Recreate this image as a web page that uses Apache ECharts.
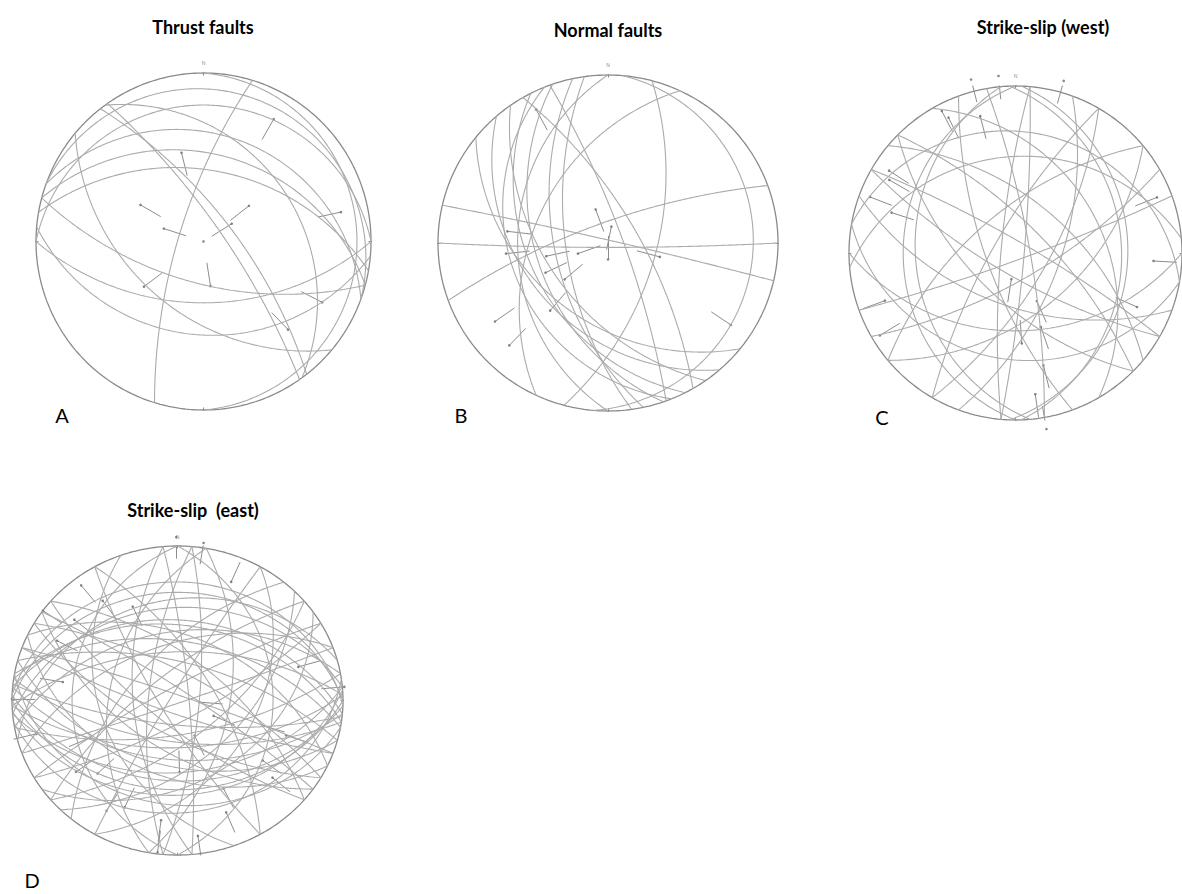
<!DOCTYPE html>
<html>
<head>
<meta charset="utf-8">
<script src="https://cdn.jsdelivr.net/npm/echarts@6/dist/echarts.min.js"></script>
<style>
  html, body { margin: 0; padding: 0; background: #ffffff; }
  #chart { width: 1182px; height: 894px; }
</style>
</head>
<body>
<div id="chart"></div>
<script>
// Fault planes as [dip direction, dip] (degrees); slip lineations as [trend, plunge, sense]
// sense 1: the arrow tail points toward the net centre, -1: the tail points outward.

const panelTitles = ['Thrust faults', 'Normal faults', 'Strike-slip (west)', 'Strike-slip  (east)'];
const panelLetters = ['A', 'B', 'C', 'D'];

const thrustPlanes = [
  [287, 73], [55, 77], [52, 70], [220, 44], [54, 31], [90, 5], [20, 6],
  [195, 62], [180, 50], [185, 32], [0, 12], [20, 25], [15, 35], [10, 44]
];
const thrustSlip = [
  [30, 10, 1], [346, 33, 1], [300, 43, 1], [288, 62, 1], [52, 52, 1], [58, 67.5, 1],
  [0, 90, 1], [171, 60, 1], [78, 10, 1], [233, 42, 1], [117, 13, 1], [136, 18, 1]
];

const normalPlanes = [
  [13, 88], [180, 87], [340, 76], [295, 43], [105, 58], [95, 9], [219, 41],
  [258, 55], [243, 40], [251, 44], [229, 37], [270, 34], [70, 80], [60, 70],
  [235, 50], [262, 62], [248, 30]
];
const normalSlip = [
  [332, 6, 1], [340, 66, 1], [11.5, 78.6, 1], [180, 78.8, 1], [276.7, 28.4, 1],
  [264, 27.8, 1], [257.8, 49.2, 1], [250.4, 68.7, 1], [105.2, 54.9, 1], [244.3, 45.6, 1],
  [229.7, 53, 1], [220.2, 34.4, 1], [234.9, 11.8, 1], [223.6, 9.8, 1], [124, 7.8, 1]
];

const westPlanes = [
  [160, 85], [150, 72], [88, 25], [92, 22], [270, 22], [265, 28], [250, 70],
  [80, 80], [95, 84], [275, 80], [110, 60], [300, 75], [120, 68], [45, 70],
  [40, 55], [225, 60], [210, 75], [355, 30], [10, 18], [180, 40], [190, 25],
  [200, 55], [30, 82], [320, 62], [140, 50], [60, 35]
];
const westSlip = [
  [354.5, -3.6, 1], [345.6, -4, 1], [345.5, 9.5, 1], [15.7, -3.9, 1], [332.5, 2.4, 1],
  [333.6, 5.7, 1], [303, 5.7, 1], [300, 7.6, 1], [291, 3.8, 1], [288, 13.9, 1],
  [68.6, 5.2, 1], [93.3, 10.6, -1], [113.9, 12.8, 1], [250, 10.3, -1], [238.8, 2.8, 1],
  [156, 55, -1], [176, 33, 1], [161, 39.8, -1], [166, 20.5, -1], [172, 9, -1],
  [170, -3.9, 1], [189, 72, -1]
];

const eastPlanes = [
  [0, 20], [355, 28], [5, 35], [350, 42], [10, 48], [2, 15], [358, 55], [15, 62], [345, 24], [8, 38],
  [180, 30], [175, 40], [185, 48], [178, 56], [190, 22], [170, 65], [182, 35], [186, 72], [172, 18],
  [195, 44], [188, 60], [176, 27],
  [30, 70], [40, 60], [210, 65], [220, 72], [35, 82], [215, 55], [25, 45], [205, 38],
  [140, 62], [150, 75], [320, 70], [310, 58], [135, 48], [330, 80], [145, 35], [300, 85],
  [95, 75], [275, 70], [85, 82], [265, 60], [100, 55], [280, 45], [90, 30], [270, 25],
  [60, 65], [240, 78], [120, 40], [340, 50], [160, 88], [20, 86], [200, 80], [250, 40]
];
const eastSlip = [
  [359.6, -3.2, 1], [8.8, -1.8, 1], [22.9, 10.4, -1], [336, 22.7, 1], [325, 13.5, 1],
  [322, 3.2, 1], [310, 11.7, 1], [305.6, 0, 1], [298, 11, 1], [279.8, 19.8, -1],
  [270.6, 0, 1], [255.8, 7.2, -1], [245.5, 29.7, -1], [233, 15, 1], [225.6, 21.9, 1],
  [94.7, 74.8, -1], [178.5, 40.2, 1], [155.6, 62, -1], [107.5, 33.4, -1], [109, 20.5, -1],
  [73.4, 15.4, -1], [85, -0.7, 1], [127, 24.4, -1], [131, 15.5, -1], [154, 25.4, -1],
  [157.9, 14, -1], [172, 7, -1], [187.3, 14, -1], [187, 0.6, 1], [211, 10.4, 1],
  [204.8, 15.4, 1], [114.5, 63, -1]
];

const panels = [
  { planes: thrustPlanes, slip: thrustSlip },
  { planes: normalPlanes, slip: normalSlip },
  { planes: westPlanes, slip: westSlip },
  { planes: eastPlanes, slip: eastSlip }
];

// --- lower-hemisphere stereographic projection -------------------------------
const RAD = Math.PI / 180;
function project(v) {            // v = [north, east, down], unit length
  const k = 1 / (1 + v[2]);
  return [v[1] * k, v[0] * k];   // [x east, y north]
}
function lineVector(trend, plunge) {
  const t = trend * RAD, p = plunge * RAD;
  return [Math.cos(p) * Math.cos(t), Math.cos(p) * Math.sin(t), Math.sin(p)];
}
function greatCircle(dipDir, dip) {
  const s = (dipDir - 90) * RAD, d = dipDir * RAD, p = dip * RAD;
  const S = [Math.cos(s), Math.sin(s), 0];
  const Dv = [Math.cos(p) * Math.cos(d), Math.cos(p) * Math.sin(d), Math.sin(p)];
  const pts = [];
  for (let a = 0; a <= 180; a += 1) {
    const c = Math.cos(a * RAD), n = Math.sin(a * RAD);
    pts.push(project([c * S[0] + n * Dv[0], c * S[1] + n * Dv[1], c * S[2] + n * Dv[2]]));
  }
  return pts;
}
function primitive() {
  const pts = [];
  for (let a = 0; a <= 360; a += 1) pts.push(project(lineVector(a, 0)));
  return pts;
}

// --- layout -------------------------------------------------------------------
const grids = [
  { left: 36, top: 73, width: 335, height: 337 },
  { left: 438, top: 75, width: 340, height: 336 },
  { left: 849, top: 86, width: 333, height: 334 },
  { left: 12, top: 546, width: 331, height: 309 }
];
const titlePos = [[203, 27], [608, 30], [1043, 27], [193, 510]];
const letterPos = [[62, 415], [461, 415], [882, 417], [32, 880]];

const ARC = '#ababab', RIM = '#8a8a8a', ARROW = '#8c8c8c';
const ARROW_LEN = 0.14;

const series = [];
panels.forEach((panel, i) => {
  const axes = { xAxisIndex: i, yAxisIndex: i };
  series.push(Object.assign({
    type: 'line', data: primitive(), symbol: 'none', clip: false, silent: true,
    lineStyle: { color: RIM, width: 1.3 }
  }, axes));
  panel.planes.forEach(pl => {
    series.push(Object.assign({
      type: 'line', data: greatCircle(pl[0], pl[1]), symbol: 'none', clip: false, silent: true,
      lineStyle: { color: ARC, width: 1.1 }
    }, axes));
  });
  // cardinal ticks on the primitive
  const ticks = [0, 90, 180, 270].map(t => {
    const a = project(lineVector(t, 0));
    return { coords: [[a[0] * 0.985, a[1] * 0.985], [a[0] * 1.015, a[1] * 1.015]] };
  });
  const segs = [], dots = [];
  panel.slip.forEach(sl => {
    const p = project(lineVector(sl[0], sl[1]));
    const r = Math.hypot(p[0], p[1]);
    dots.push(p);
    if (r > 0.02) {
      const f = (r - sl[2] * ARROW_LEN) / r;
      segs.push({ coords: [[p[0] * f, p[1] * f], p] });
    }
  });
  series.push(Object.assign({
    type: 'lines', coordinateSystem: 'cartesian2d', data: ticks.concat(segs), silent: true,
    lineStyle: { color: ARROW, width: 1, opacity: 1 }
  }, axes));
  series.push(Object.assign({
    type: 'scatter', data: dots, symbol: 'circle', symbolSize: 2.6, silent: true, clip: false,
    itemStyle: { color: '#6a6a6a' }
  }, axes));
  // north marker
  series.push(Object.assign({
    type: 'scatter', data: [[0, 1.06]], symbolSize: 0, silent: true, clip: false,
    label: { show: true, formatter: 'N', fontSize: 5, color: '#666', position: 'inside' }
  }, axes));
});

const graphic = [];
panelTitles.forEach((t, i) => {
  graphic.push({
    type: 'text', x: titlePos[i][0], y: titlePos[i][1], silent: true,
    style: { text: t, fill: '#000', font: 'bold 18px Lato, "Open Sans", sans-serif',
             textAlign: 'center', textVerticalAlign: 'middle' }
  });
  graphic.push({
    type: 'text', x: letterPos[i][0], y: letterPos[i][1], silent: true,
    style: { text: panelLetters[i], fill: '#000', font: '20px Lato, "Open Sans", sans-serif',
             textAlign: 'center', textVerticalAlign: 'middle' }
  });
});

const chart = echarts.init(document.getElementById('chart'), null, { renderer: 'svg' });
chart.setOption({
  animation: false,
  backgroundColor: '#ffffff',
  grid: grids,
  xAxis: grids.map((g, i) => ({ type: 'value', gridIndex: i, min: -1, max: 1, show: false })),
  yAxis: grids.map((g, i) => ({ type: 'value', gridIndex: i, min: -1, max: 1, show: false })),
  graphic: graphic,
  series: series
});
</script>
</body>
</html>
